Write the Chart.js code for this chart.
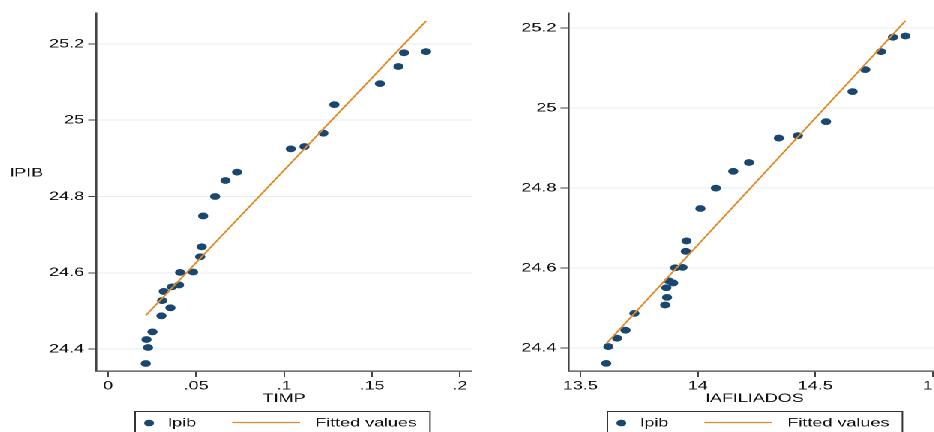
<!DOCTYPE html>
<html><head><meta charset="utf-8">
<script src="https://cdn.jsdelivr.net/npm/chart.js@4"></script>
<style>
html,body{margin:0;padding:0;background:#fff;overflow:hidden;width:934px;height:432px;}
#wrap{position:absolute;left:0;top:0;width:640px;height:432px;transform:scaleX(1.5);transform-origin:0 0;}
.box{position:absolute;top:0;width:320px;height:432px;}
</style></head><body>
<div id="wrap">
<div class="box" style="left:0px"><canvas id="c1"></canvas></div>
<div class="box" style="left:315.333px"><canvas id="c2"></canvas></div>
</div>
<script>
// ---- data ----
const lpib = [24.362, 24.404, 24.425, 24.445, 24.487, 24.508, 24.527, 24.551, 24.563, 24.568,
              24.601, 24.602, 24.642, 24.668, 24.749, 24.800, 24.842, 24.864, 24.925, 24.931,
              24.966, 25.041, 25.096, 25.141, 25.177, 25.180];
const timp = [0.0214, 0.0227, 0.0218, 0.0252, 0.0303, 0.0354, 0.0307, 0.0316, 0.0362, 0.0403,
              0.0409, 0.0483, 0.0523, 0.0532, 0.0540, 0.0608, 0.0667, 0.0733, 0.1038, 0.1116,
              0.1223, 0.1286, 0.1545, 0.1650, 0.1682, 0.1807];
const lafiliados = [13.610, 13.619, 13.656, 13.692, 13.730, 13.861, 13.869, 13.866, 13.895, 13.878,
              13.904, 13.935, 13.949, 13.952, 14.011, 14.077, 14.151, 14.218, 14.345, 14.426,
              14.546, 14.659, 14.713, 14.780, 14.831, 14.884];
const fitTimpX = [0.0214, 0.1807];
const fitTimpY = [24.488, 25.260];
const fitAfilX = [13.610, 14.884];
const fitAfilY = [24.411, 25.218];
const timpTicks = [0, 0.05, 0.1, 0.15, 0.2];
const afilTicks = [13.5, 14, 14.5, 15];
const lpibTicks = [24.4, 24.6, 24.8, 25, 25.2];
const pointLabel = 'lpib';
const fitLabel = 'Fitted values';

const NAVY = '#1a476f';
const ORANGE = '#e08a24';
const TXT = '#111';
const FONT = '"Liberation Sans", Arial, Helvetica, sans-serif';
Chart.defaults.font.family = FONT;
Chart.defaults.font.size = 12;
Chart.defaults.color = TXT;

const stataDeco = {
  id: 'stataDeco',
  afterDraw(chart, args, opts) {
    const ctx = chart.ctx, a = chart.chartArea;
    ctx.save();
    ctx.font = '12px ' + FONT;
    ctx.fillStyle = TXT;
    ctx.textBaseline = 'middle';
    ctx.textAlign = 'left';
    if (opts.ytitle) ctx.fillText(opts.ytitle, 6.7, 173);
    const L = a.left;
    ctx.strokeStyle = '#333'; ctx.lineWidth = 1;
    ctx.beginPath();
    ctx.moveTo(L + 26, 445); ctx.lineTo(L + 26, 411.5);
    ctx.lineTo(L + 222.7, 411.5); ctx.lineTo(L + 222.7, 445);
    ctx.stroke();
    ctx.fillStyle = NAVY;
    ctx.beginPath(); ctx.arc(L + 35.3, 423, 3.3, 0, Math.PI * 2); ctx.fill();
    ctx.fillStyle = TXT;
    ctx.fillText(chart.data.datasets[0].label, L + 48, 423);
    ctx.strokeStyle = ORANGE; ctx.lineWidth = 1.3;
    ctx.beginPath(); ctx.moveTo(L + 90.7, 422.5); ctx.lineTo(L + 136, 422.5); ctx.stroke();
    ctx.fillStyle = TXT;
    ctx.fillText(chart.data.datasets[1].label, L + 146, 423);
    ctx.restore();
  }
};

function makeChart(id, xs, fitX, fitY, xTicks, xMin, xMax, yMin, yMax, xTitle, ytitle, padRight, fmtX) {
  const pts = xs.map((x, i) => ({ x: x, y: lpib[i] }));
  const fit = fitX.map((x, i) => ({ x: x, y: fitY[i] }));
  const el = document.getElementById(id);
  el.width = 320; el.height = 432;
  return new Chart(el, {
    type: 'scatter',
    data: {
      datasets: [
        { label: pointLabel, data: pts, order: 2, pointRadius: 3.4, pointHoverRadius: 3.4,
          pointBackgroundColor: NAVY, pointBorderColor: NAVY, pointBorderWidth: 0, showLine: false },
        { label: fitLabel, data: fit, order: 1, showLine: true, borderColor: ORANGE, borderWidth: 1.3,
          pointRadius: 0, pointHoverRadius: 0, fill: false }
      ]
    },
    options: {
      responsive: false, animation: false, devicePixelRatio: 2, events: [],
      layout: { padding: { left: 0, right: padRight, top: 13, bottom: 0 } },
      plugins: { legend: { display: false }, tooltip: { enabled: false }, stataDeco: { ytitle: ytitle } },
      scales: {
        x: {
          type: 'linear', position: 'bottom', min: xMin, max: xMax,
          afterBuildTicks: s => { s.ticks = xTicks.map(v => ({ value: v })); },
          afterFit: s => { s.height = 61; },
          ticks: { autoSkip: false, maxRotation: 0, minRotation: 0, padding: 2, color: TXT,
                   font: { size: 12 }, callback: fmtX },
          grid: { drawOnChartArea: false, drawTicks: true, tickLength: 6, tickColor: '#444', tickWidth: 1 },
          border: { display: true, color: '#444', width: 1.3 },
          title: { display: true, text: xTitle, color: TXT, font: { size: 12 }, padding: { top: 0, bottom: 26 } }
        },
        y: {
          type: 'linear', position: 'left', min: yMin, max: yMax,
          afterBuildTicks: s => { s.ticks = lpibTicks.map(v => ({ value: v })); },
          afterFit: s => { s.width = 64; },
          ticks: { padding: 2.7, color: TXT, font: { size: 12 }, callback: v => String(v) },
          grid: { color: '#e3ecf0', lineWidth: 1, drawTicks: true, tickLength: 5.3, tickColor: '#444', tickWidth: 1 },
          border: { display: true, color: '#444', width: 1.3 }
        }
      }
    },
    plugins: [stataDeco]
  });
}

makeChart('c1', timp, fitTimpX, fitTimpY, timpTicks, -0.0068, 0.2068, 24.3423, 25.2813,
          'TIMP', 'lPIB', 5.33, v => (v === 0 ? '0' : String(v).replace(/^0\./, '.')));
makeChart('c2', lafiliados, fitAfilX, fitAfilY, afilTicks, 13.449, 15.037, 24.343, 25.2375,
          'lAFILIADOS', null, 7.33, v => String(v));
</script>
</body></html>
